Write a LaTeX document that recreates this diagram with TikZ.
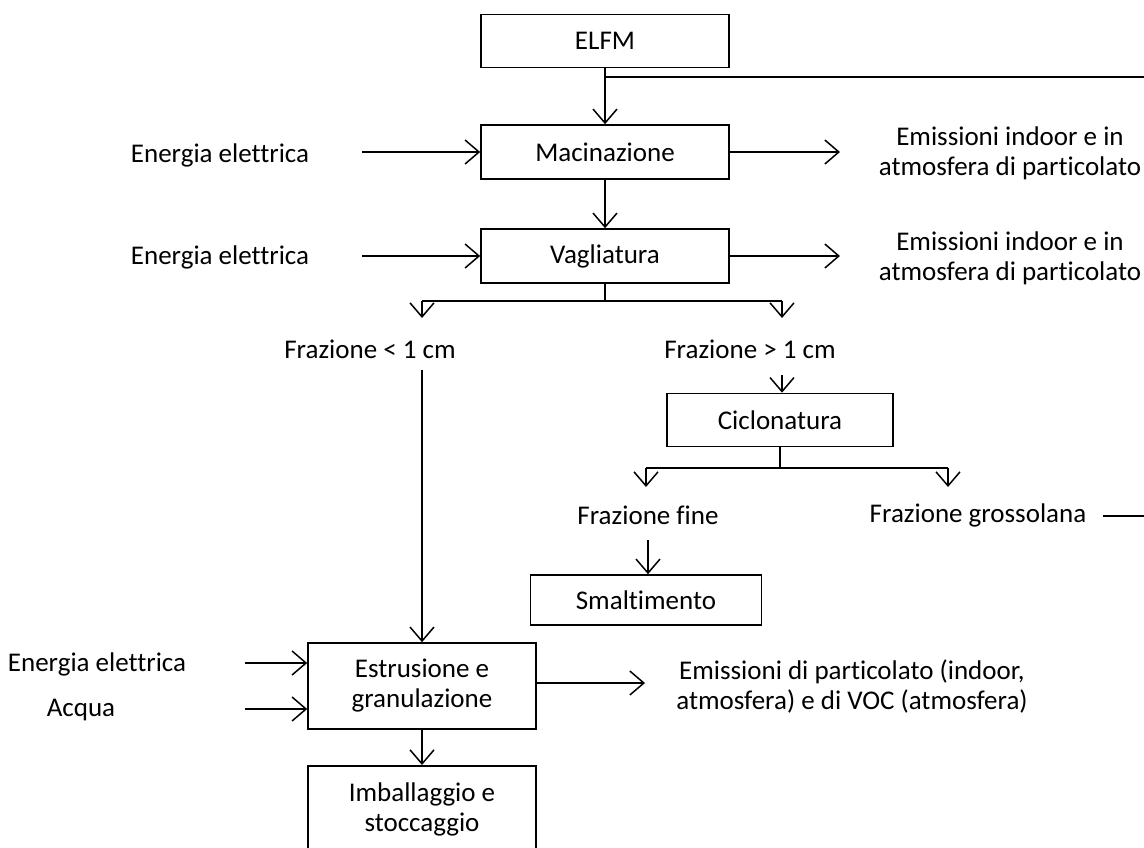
\documentclass[tikz,border=0pt]{standalone}
\usepackage{fontspec}
\setmainfont{Carlito}[Ligatures=NoCommon]
\usetikzlibrary{arrows.meta}
\begin{document}
\begin{tikzpicture}[x=1pt,y=-1pt,
  every node/.style={font=\fontsize{27}{30}\selectfont, inner sep=0pt},
  box/.style={draw, line width=1.6pt, align=center},
  lbl/.style={align=center},
  ln/.style={line width=1.5pt},
  arr/.style={line width=1.5pt, -{Straight Barb[length=14pt,width=24pt,line width=1.5pt]}}]
\clip (0,0) rectangle (1144,847);
\useasboundingbox (0,0) rectangle (1144,847);
% boxes
\node[box, minimum width=248pt, minimum height=53pt] (elfm) at (605,41) {ELFM};
\node[box, minimum width=248pt, minimum height=54pt] (mac) at (605,152) {Macinazione};
\node[box, minimum width=248pt, minimum height=54pt] (vag) at (605,256) {Vagliatura};
\node[box, minimum width=226pt, minimum height=53pt] (cic) at (780,420) {Ciclonatura};
\node[box, minimum width=231pt, minimum height=50pt] (sma) at (646,600) {Smaltimento};
\node[box, minimum width=228pt, minimum height=86pt] (est) at (422,686) {Estrusione e\\granulazione};
\node[box, minimum width=228pt, minimum height=88pt, anchor=north] (imb) at (422,765) {Imballaggio e\\stoccaggio};
% labels
\node[lbl] (e1) at (220,155) {Energia elettrica};
\node[lbl] (e2) at (220,257) {Energia elettrica};
\node[lbl] (e3) at (97,664) {Energia elettrica};
\node[lbl] (acq) at (81,710) {Acqua};
\node[lbl] (em1) at (1010,153) {Emissioni indoor e in\\atmosfera di particolato};
\node[lbl] (em2) at (1010,258) {Emissioni indoor e in\\atmosfera di particolato};
\node[lbl] (em3) at (852,686) {Emissioni di particolato (indoor,\\atmosfera) e di VOC (atmosfera)};
\node[lbl] (f1) at (370,349) {Frazione < 1 cm};
\node[lbl] (f2) at (750,349) {Frazione > 1 cm};
\node[lbl] (ff) at (648,515) {Frazione fine};
\node[lbl] (fg) at (978,515) {Frazione grossolana};
% coordinates
\coordinate (j1) at (605,77);
\coordinate (r1) at (1144,77);
\coordinate (a1) at (362,152);
\coordinate (a2) at (362,256);
\coordinate (o1) at (840,152);
\coordinate (o2) at (840,256);
\coordinate (v0) at (605,301);
\coordinate (vla) at (422,301);
\coordinate (vlb) at (422,318);
\coordinate (vra) at (782,301);
\coordinate (vrb) at (782,318);
\coordinate (s1) at (422,370);
\coordinate (s2) at (782,375);
\coordinate (c0) at (780,468);
\coordinate (cla) at (646,468);
\coordinate (clb) at (646,487);
\coordinate (cra) at (948,468);
\coordinate (crb) at (948,487);
\coordinate (s3) at (648,540);
\coordinate (g1) at (1103,516);
\coordinate (g2) at (1144,516);
\coordinate (i1) at (245,663);
\coordinate (i2) at (245,709);
\coordinate (o3) at (645,683);
% connectors
\draw[arr] (elfm.south) -- (mac.north);
\draw[ln] (j1) -- (r1);
\draw[arr] (a1) -- (a1 -| mac.west);
\draw[arr] (a2) -- (a2 -| vag.west);
\draw[arr] (mac.east) -- (o1);
\draw[arr] (vag.east) -- (o2);
\draw[arr] (mac.south) -- (vag.north);
\draw[ln] (vag.south) -- (v0);
\draw[ln] (vla) -- (vra);
\draw[arr] (vla) -- (vlb);
\draw[arr] (vra) -- (vrb);
\draw[arr] (s1) -- (est.north);
\draw[arr] (s2) -- (s2 |- cic.north);
\draw[ln] (cic.south) -- (c0);
\draw[ln] (cla) -- (cra);
\draw[arr] (cla) -- (clb);
\draw[arr] (cra) -- (crb);
\draw[arr] (s3) -- (s3 |- sma.north);
\draw[ln] (g1) -- (g2);
\draw[arr] (i1) -- (i1 -| est.west);
\draw[arr] (i2) -- (i2 -| est.west);
\draw[arr] (o3 -| est.east) -- (o3);
\draw[arr] (est.south) -- (imb.north);
\end{tikzpicture}
\end{document}
